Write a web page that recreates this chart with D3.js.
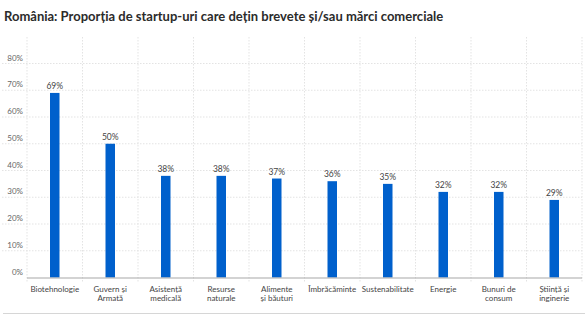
<!DOCTYPE html>
<html>
<head>
<meta charset="utf-8">
<script src="https://cdn.jsdelivr.net/npm/d3@7"></script>
<style>
  body { margin: 0; background: #fff; }
  svg { display: block; font-family: Lato, "Open Sans", sans-serif; }
  .title { font-size: 13px; font-weight: 700; fill: #2b2b2b; }
  .grid line { stroke: #e3e3e3; stroke-dasharray: 1.5 1.5; }
  .y.axis text { font-size: 8px; fill: #666; }
  .cat { font-size: 8px; fill: #444; }
  .val { font-size: 8.5px; fill: #444; }
</style>
</head>
<body>
<svg width="585" height="329"></svg>
<script>
// sectors, first line / second line of each label
let categories = ['Biotehnologie', 'Guvern și Armată', 'Asistență medicală', 'Resurse naturale',
  'Alimente și băuturi', 'Îmbrăcăminte', 'Sustenabilitate', 'Energie', 'Bunuri de consum', 'Știință și inginerie'];
let labelLines = [['Biotehnologie'], ['Guvern și', 'Armată'], ['Asistență', 'medicală'], ['Resurse', 'naturale'],
  ['Alimente', 'și băuturi'], ['Îmbrăcăminte'], ['Sustenabilitate'], ['Energie'], ['Bunuri de', 'consum'], ['Știință și', 'inginerie']];
let shares = [69, 50, 38, 38, 37, 36, 35, 32, 32, 29];
let yTicks = [0, 10, 20, 30, 40, 50, 60, 70, 80];

let svg = d3.select('svg');
let plotLeft = 27, plotRight = 582, plotTop = 63.5, plotBottom = 277.5;

let x = d3.scaleBand().domain(categories).range([plotLeft, plotRight]);
let y = d3.scaleLinear().domain([0, 80]).range([plotBottom, plotTop]);

svg.append('text')
  .attr('class', 'title')
  .attr('x', 4).attr('y', 21)
  .text('România: Proporția de startup-uri care dețin brevete și/sau mărci comerciale');

// horizontal grid
let grid = svg.append('g').attr('class', 'grid');
grid.selectAll('line.h').data(yTicks.filter(d => d > 0)).enter().append('line')
  .attr('class', 'h')
  .attr('x1', 2).attr('x2', plotRight)
  .attr('y1', d => y(d)).attr('y2', d => y(d));

// vertical grid at band edges
let edges = categories.map(c => x(c)).concat([plotRight]);
grid.selectAll('line.v').data(edges).enter().append('line')
  .attr('class', 'v')
  .attr('x1', d => d).attr('x2', d => d)
  .attr('y1', 37).attr('y2', 283);

// y labels sit just above their gridline
let yAxis = svg.append('g').attr('class', 'y axis');
yAxis.selectAll('text').data(yTicks).enter().append('text')
  .attr('x', 23).attr('y', d => y(d) - 3)
  .attr('text-anchor', 'end')
  .text(d => d + '%');

let barW = 9.5;
svg.selectAll('rect.bar').data(shares).enter().append('rect')
  .attr('class', 'bar')
  .attr('x', (d, i) => x(categories[i]) + x.bandwidth() / 2 - barW / 2)
  .attr('width', barW)
  .attr('y', d => y(d))
  .attr('height', d => y(0) - y(d))
  .attr('fill', '#0060cc');

svg.selectAll('text.val').data(shares).enter().append('text')
  .attr('class', 'val')
  .attr('x', (d, i) => x(categories[i]) + x.bandwidth() / 2)
  .attr('y', d => y(d) - 4)
  .attr('text-anchor', 'middle')
  .text(d => d + '%');

// baseline
svg.append('line')
  .attr('x1', plotLeft).attr('x2', plotRight)
  .attr('y1', y(0) + 0.5).attr('y2', y(0) + 0.5)
  .attr('stroke', '#a8a8a8').attr('stroke-width', 1.2);

let cats = svg.selectAll('text.cat').data(labelLines).enter().append('text')
  .attr('class', 'cat')
  .attr('text-anchor', 'middle')
  .attr('x', (d, i) => x(categories[i]) + x.bandwidth() / 2)
  .attr('y', 292);
cats.selectAll('tspan').data(d => d).enter().append('tspan')
  .attr('x', function() { return this.parentNode.getAttribute('x'); })
  .attr('dy', (d, i) => i ? 9 : 0)
  .text(d => d);

// bottom rule
svg.append('line')
  .attr('x1', 3).attr('x2', 585)
  .attr('y1', 313.5).attr('y2', 313.5)
  .attr('stroke', '#d6d6d6').attr('stroke-width', 1.2);
</script>
</body>
</html>
